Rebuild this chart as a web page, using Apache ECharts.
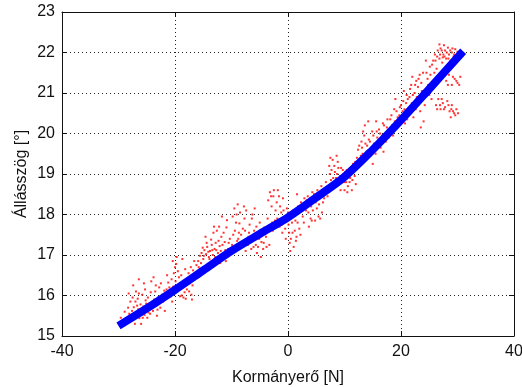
<!DOCTYPE html>
<html>
<head>
<meta charset="utf-8">
<script src="https://cdn.jsdelivr.net/npm/echarts@6/dist/echarts.min.js"></script>
<style>
  html, body { margin: 0; padding: 0; background: #fff; }
  #chart { width: 522px; height: 387px; }
</style>
</head>
<body>
<div id="chart"></div>
<script>
// axis ticks
var xTicks = [-40, -20, 0, 20, 40];
var yTicks = [15, 16, 17, 18, 19, 20, 21, 22, 23];

// fitted curve (blue)
var fitLine = [
  [-30, 15.25], [-25, 15.68], [-20, 16.14], [-15, 16.62], [-10, 17.1],
  [-5, 17.52], [0, 17.93], [5, 18.42], [10, 18.93], [15, 19.6],
  [20, 20.33], [25, 21.1], [31, 22.03]
];

var measured = [
  [-28.5,15.42],[-28.1,15.55],[-27.8,15.38],[-27.6,15.62],[-27.3,15.71],[-27.2,15.48],[-27.0,15.85],[-26.8,15.58],
  [-26.6,15.92],[-26.5,15.66],[-26.3,15.44],[-26.1,15.78],[-25.9,15.6],[-25.8,16.02],[-25.6,15.73],[-25.4,15.52],
  [-25.2,15.88],[-25.0,15.67],[-24.8,15.95],[-24.7,15.58],[-24.5,15.8],[-24.3,16.08],[-24.1,15.71],[-23.9,15.62],
  [-23.7,15.9],[-23.5,16.1],[-23.3,15.78],[-23.0,15.95],[-22.8,16.2],[-22.6,15.7],[-22.3,16.02],[-22.1,15.85],
  [-27.4,16.25],[-26.9,16.1],[-25.5,16.3],[-24.2,16.35],[-23.8,16.45],[-28.9,15.6],[-29.2,15.35],[-26.0,15.3],
  [-24.9,15.45],[-23.2,15.5],[-21.8,15.62],
  [-29.6,15.45],[-28.7,15.3],[-28.3,15.7],[-27.9,15.85],[-27.5,15.95],[-27.1,15.3],[-26.7,15.75],[-26.4,16.05],
  [-26.2,15.55],[-25.7,15.45],[-25.3,16.15],[-25.1,15.8],[-24.6,15.7],[-24.4,15.55],[-24.0,15.85],[-23.6,15.75],
  [-23.4,16.25],[-23.1,15.65],[-22.9,15.85],[-22.5,16.3],[-22.2,15.95],[-21.9,16.12],[-28.2,16.05],[-26.4,16.4],
  [-27.7,15.5],
  [-21.5,16.15],[-21.2,16.32],[-20.9,16.05],[-20.6,16.4],[-20.3,16.22],[-20.0,16.7],[-19.8,16.78],[-19.6,16.12],
  [-19.3,16.45],[-19.0,16.28],[-18.8,16.0],[-18.5,15.95],[-18.3,16.08],[-18.1,15.92],[-17.9,16.15],[-17.6,16.55],
  [-17.4,16.3],[-17.1,16.02],[-16.8,16.62],[-16.5,16.4],[-16.2,16.75],[-16.0,16.5],[-18.7,16.9],[-20.5,15.85],
  [-17.0,15.9],
  [-21.7,15.95],[-21.4,16.5],[-21.0,16.2],[-20.7,15.98],[-20.2,16.55],[-19.9,16.35],[-19.5,16.6],[-19.1,15.98],
  [-18.9,16.5],[-18.6,16.2],[-18.2,16.65],[-17.8,16.38],[-17.5,16.1],[-17.2,16.7],[-16.9,16.25],[-16.6,16.85],
  [-16.3,16.55],[-20.4,16.85],[-19.7,16.95],
  [-15.6,16.98],[-15.3,17.05],[-15.0,16.9],[-14.8,17.12],[-14.5,17.02],[-14.3,17.2],[-14.0,16.95],[-13.8,17.1],
  [-13.5,17.25],[-13.3,17.0],[-13.0,17.15],[-12.8,17.3],[-12.6,17.6],[-12.4,17.05],[-12.1,17.22],[-11.8,17.45],
  [-11.5,17.0],[-11.2,17.32],[-10.8,17.86],[-10.6,17.15],[-10.3,17.4],[-14.6,17.45],[-13.2,17.55],[-11.0,16.85],
  [-15.8,16.7],[-12.0,16.8],
  [-15.9,16.85],[-15.4,16.8],[-15.1,17.18],[-14.9,16.98],[-14.4,17.3],[-14.1,17.08],[-13.9,16.9],[-13.6,17.38],
  [-13.4,17.12],[-12.9,16.95],[-12.7,17.12],[-12.3,17.35],[-12.2,17.7],[-11.9,17.1],[-11.6,17.25],[-11.4,17.55],
  [-11.1,17.12],[-10.9,17.68],[-10.5,17.3],[-10.2,17.05],[-13.1,17.7],[-11.7,17.95],
  [-9.8,17.95],[-9.5,18.15],[-9.2,17.8],[-9.0,17.35],[-8.7,17.55],[-8.5,18.05],[-8.2,17.2],[-8.0,17.65],
  [-7.7,17.9],[-7.5,17.1],[-7.3,17.3],[-7.0,17.45],[-6.8,17.75],[-6.5,17.15],[-6.2,17.38],[-6.0,17.6],
  [-5.7,17.25],[-5.5,17.05],[-5.2,17.5],[-5.0,17.8],[-4.7,17.32],[-4.4,17.15],[-4.2,17.68],[-3.9,17.45],
  [-3.6,17.9],[-9.6,17.1],[-8.9,18.25],[-6.3,18.0],[-4.8,16.95],[-3.3,17.25],
  [-9.9,17.25],[-9.7,17.5],[-9.4,17.6],[-9.1,18.0],[-8.8,17.4],[-8.6,17.78],[-8.3,17.5],[-7.9,17.3],
  [-7.6,17.6],[-7.4,18.1],[-7.1,17.25],[-6.9,17.55],[-6.6,17.4],[-6.4,17.9],[-6.1,17.2],[-5.8,17.5],
  [-5.6,17.7],[-5.3,17.2],[-5.1,17.4],[-4.9,17.6],[-4.6,17.5],[-4.3,17.3],[-4.0,17.6],[-3.8,17.2],
  [-7.8,18.2],[-5.9,18.15],
  [-3.5,18.35],[-3.2,18.55],[-2.9,18.2],[-2.6,18.45],[-2.3,17.85],[-2.0,18.3],[-1.8,18.6],[-1.5,17.7],
  [-1.2,18.05],[-1.0,17.55],[-0.7,17.9],[-0.4,17.4],[-0.2,18.15],[0.1,17.75],[0.3,17.3],[0.6,18.0],
  [0.8,17.55],[1.0,17.2],[1.3,17.85],[1.5,17.45],[1.8,18.2],[2.0,17.65],[2.3,18.3],[2.6,17.95],
  [2.9,18.4],[-2.7,17.6],[-0.9,18.4],[0.4,17.1],[1.6,18.5],
  [-3.4,17.7],[-3.0,18.45],[-2.8,17.8],[-2.5,18.6],[-2.2,18.1],[-1.9,17.9],[-1.6,18.45],[-1.4,18.2],
  [-1.1,17.75],[-0.8,18.1],[-0.5,17.65],[-0.3,17.9],[0.0,18.05],[0.2,17.55],[0.5,17.4],[0.7,17.8],
  [0.9,18.1],[1.2,17.6],[1.4,17.35],[1.7,17.8],[1.9,18.05],[2.2,17.5],[2.5,18.15],[2.8,17.8],
  [3.2,18.1],[3.5,18.45],[3.8,18.25],[4.0,17.9],[4.3,18.55],[4.5,18.35],[4.8,17.85],[5.0,18.5],
  [5.2,18.6],[5.4,17.95],[5.6,18.4],[5.9,18.7],[6.2,18.3],[6.5,18.55],[6.8,18.65],[7.0,18.45],
  [3.7,17.7],[6.0,18.05],
  [3.0,18.25],[3.3,18.35],[3.6,18.05],[3.9,18.4],[4.1,18.2],[4.4,18.1],[4.6,18.5],[4.9,18.3],
  [5.1,18.15],[5.3,18.4],[5.5,18.25],[5.8,18.5],[6.1,18.6],[6.4,18.4],[6.7,18.8],[6.9,18.6],
  [4.2,17.85],[5.7,17.9],
  [7.3,19.2],[7.6,18.85],[7.9,19.35],[8.1,18.7],[8.3,19.05],[8.5,18.9],[8.8,19.3],[9.0,18.75],
  [9.2,18.95],[9.4,19.15],[9.6,18.85],[9.8,19.0],[10.0,18.8],[10.2,18.95],[10.4,19.1],[10.6,18.7],
  [10.8,19.05],[11.0,18.9],[11.3,18.6],[11.5,19.25],[11.8,18.95],[12.0,18.75],[8.6,19.45],[10.5,18.55],
  [12.2,19.4],[9.3,18.6],
  [7.1,18.7],[7.4,19.0],[7.7,19.1],[8.0,18.9],[8.2,19.2],[8.4,18.8],[8.7,19.0],[8.9,19.15],
  [9.1,18.85],[9.5,18.95],[9.7,19.1],[9.9,18.9],[10.1,19.05],[10.3,18.8],[10.7,18.95],[10.9,18.8],
  [11.2,19.1],[11.4,18.85],[11.7,19.15],[11.9,19.3],[7.5,19.4],[10.0,18.6],
  [12.4,19.6],[12.7,19.35],[13.0,19.8],[13.2,19.5],[13.5,19.95],[13.8,19.4],[14.0,19.7],[14.3,19.85],
  [14.6,19.55],[14.9,20.05],[15.2,19.75],[15.5,19.5],[15.8,19.9],[16.1,20.1],[16.4,19.65],[16.7,19.95],
  [17.0,20.2],[17.3,19.8],[17.6,20.35],[13.6,20.2],[15.0,19.25],[16.9,19.55],[14.2,20.3],
  [12.3,19.2],[12.6,19.7],[12.9,19.45],[13.1,19.65],[13.4,19.3],[13.7,19.75],[13.9,19.55],[14.2,19.45],
  [14.5,19.8],[14.8,19.6],[15.1,19.95],[15.4,19.7],[15.7,20.05],[16.0,19.8],[16.3,20.0],[16.6,19.8],
  [16.8,20.25],[17.2,20.0],[17.5,20.15],[17.8,19.9],[13.3,20.05],[15.6,20.3],
  [18.0,20.1],[18.3,20.45],[18.6,19.95],[18.9,20.3],[19.2,20.55],[19.5,20.2],[19.8,20.65],[20.1,20.4],
  [20.4,20.8],[20.7,20.25],[21.0,20.95],[21.3,20.6],[21.6,21.1],[21.9,20.75],[22.2,20.4],[22.5,21.2],
  [22.8,20.9],[23.1,21.35],[23.4,20.55],[23.7,21.05],[24.0,20.3],[24.2,20.7],[19.0,20.85],[20.5,21.05],
  [22.0,21.4],[23.5,20.15],
  [18.1,20.35],[18.4,20.2],[18.8,20.6],[19.1,20.15],[19.4,20.4],[19.7,20.45],[20.0,20.7],[20.3,20.55],
  [20.6,20.6],[20.9,20.75],[21.2,20.85],[21.5,20.9],[21.8,21.2],[22.1,20.95],[22.4,21.0],[22.7,21.3],
  [23.0,21.15],[23.3,21.45],[23.6,21.25],[23.9,21.5],[24.1,21.0],[21.1,20.35],[22.6,20.6],
  [24.5,21.5],[24.8,21.2],[25.1,21.65],[25.4,20.85],[25.7,21.8],[26.0,21.95],[26.3,21.6],[26.5,22.05],
  [26.8,21.85],[27.0,22.1],[27.3,21.75],[27.5,21.95],[27.8,22.05],[28.0,21.85],[28.3,22.12],[28.5,21.95],
  [28.8,21.8],[29.0,22.0],[29.3,21.9],[29.6,22.08],[29.9,21.95],[30.2,21.85],[26.2,20.7],[26.6,20.85],
  [27.0,20.6],[27.4,20.75],[27.8,20.65],[28.2,20.8],[28.6,20.55],[29.0,20.7],[29.4,20.5],[29.8,20.6],
  [28.0,21.3],[28.5,21.45],[29.0,21.2],[29.5,21.35],[30.0,21.25],[30.5,21.4],[28.8,20.4],[29.6,20.45],
  [25.0,20.95],[26.8,22.2],[27.6,22.18],
  [24.4,21.8],[24.7,21.35],[25.2,21.45],[25.5,21.7],[25.9,21.5],[26.1,21.8],[26.4,21.9],[26.9,21.95],
  [27.2,22.05],[27.4,21.88],[27.7,21.9],[28.1,22.0],[28.4,21.85],[28.7,22.05],[29.1,22.1],[29.4,21.95],
  [29.7,21.85],[30.0,22.02],[26.4,20.6],[26.9,20.7],[27.2,20.85],[27.6,20.6],[28.4,20.7],[28.9,20.6],
  [29.2,20.55],[30.1,20.5],[28.3,21.2],[29.2,21.4],[29.8,21.3],[30.3,21.2]
];

var chart = echarts.init(document.getElementById('chart'));

var labelFont = { color: '#111', fontSize: 16, fontFamily: 'Liberation Sans, Arial, sans-serif' };
var axisLine = { onZero: false, lineStyle: { color: '#111', width: 1 } };
var ticks = { inside: true, length: 5, lineStyle: { color: '#111' } };
var dots = { show: true, lineStyle: { color: '#222', type: [1, 3], width: 1 } };

chart.setOption({
  animation: false,
  grid: { left: 62, right: 8, top: 12, bottom: 51, outerBoundsMode: 'none' },
  xAxis: [
    {
      type: 'value', min: xTicks[0], max: xTicks[xTicks.length - 1], interval: 20,
      name: 'Kormányerő [N]', nameLocation: 'middle', nameGap: 34,
      nameTextStyle: labelFont,
      axisLine: axisLine, axisTick: ticks,
      axisLabel: Object.assign({ margin: 8 }, labelFont),
      splitLine: dots
    },
    {
      type: 'value', position: 'top', min: xTicks[0], max: xTicks[xTicks.length - 1], interval: 20,
      axisLine: axisLine, axisTick: ticks,
      axisLabel: { show: false }, splitLine: { show: false }
    }
  ],
  yAxis: [
    {
      type: 'value', min: yTicks[0], max: yTicks[yTicks.length - 1], interval: 1,
      name: 'Állásszög [°]', nameLocation: 'middle', nameGap: 32, nameMoveOverlap: false,
      nameTextStyle: labelFont,
      axisLine: axisLine, axisTick: ticks,
      axisLabel: Object.assign({ margin: 7 }, labelFont),
      splitLine: dots
    },
    {
      type: 'value', position: 'right', min: yTicks[0], max: yTicks[yTicks.length - 1], interval: 1,
      axisLine: axisLine, axisTick: ticks,
      axisLabel: { show: false }, splitLine: { show: false }
    }
  ],
  series: [
    {
      type: 'scatter',
      data: measured,
      symbol: 'rect',
      symbolSize: 2,
      itemStyle: { color: '#ff0000' }
    },
    {
      type: 'line',
      data: fitLine,
      smooth: 0.3,
      showSymbol: false,
      lineStyle: { color: '#0000ff', width: 8 }
    }
  ]
});
</script>
</body>
</html>
